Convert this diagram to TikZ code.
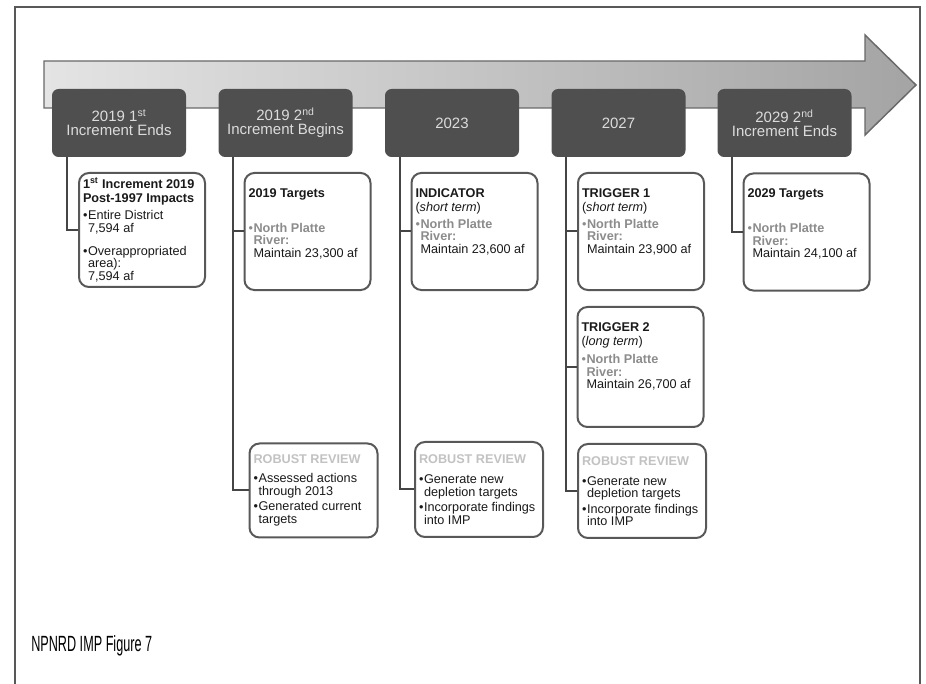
\documentclass[tikz,border=0pt]{standalone}
\usepackage{fontspec}
\setmainfont{Liberation Sans}

\definecolor{darkbox}{HTML}{4F4F4F}
\definecolor{yeartext}{HTML}{DCDCDC}
\definecolor{boxline}{HTML}{585858}
\definecolor{linkline}{HTML}{454545}
\definecolor{npgray}{HTML}{8C8C8C}
\definecolor{rrgray}{HTML}{C2C2C2}
\definecolor{textdark}{HTML}{1A1A1A}
\definecolor{arrowlight}{HTML}{E4E4E4}
\definecolor{arrowdark}{HTML}{A4A4A4}

% bullet item with hanging indent
\newcommand{\bpt}[1]{\par\hangindent=3.8pt\hangafter=1\noindent\makebox[3.8pt][l]{\textbullet}#1\par}
% North Platte target item
\newcommand{\nptarget}[1]{{\color{npgray}\bpt{\textbf{North Platte}\\\textbf{River:}\\\textcolor{textdark}{Maintain #1}}}}

\tikzset{
  frameline/.style={draw=boxline, line width=1.5pt},
  timearrow/.style={draw=boxline!90, line width=1.1pt, left color=arrowlight, right color=arrowdark},
  yearbox/.style={fill=darkbox, rounded corners=5pt, minimum width=100.5pt, minimum height=51pt,
    inner sep=0pt, align=center, text=yeartext, font=\fontsize{11.25pt}{10.5pt}\selectfont},
  infobox/.style={draw=boxline, line width=1.5pt, fill=white, rounded corners=7.5pt,
    inner xsep=3pt, inner ysep=3.4pt, text=textdark, font=\fontsize{9.5pt}{9.4pt}\selectfont},
  link/.style={draw=linkline, line width=1.5pt}
}

\begin{document}
\begin{tikzpicture}[x=0.75pt,y=-0.75pt]
  % page
  \clip (0,0) rectangle (926,684);
  % outer frame
  \draw[frameline] (15,7) rectangle (920,700);
  % timeline arrow
  \draw[timearrow] (44,61) -- (865,61) -- (865,35) -- (916,85) -- (865,135) -- (865,108) -- (44,108) -- cycle;

  % year boxes
  \node[yearbox] (y1) at (119,123) {2019 1\textsuperscript{st}\\Increment Ends};
  \node[yearbox] (y2) at (285.5,123) {2019 2\textsuperscript{nd}\\Increment Begins};
  \node[yearbox] (y3) at (452,123) {2023};
  \node[yearbox] (y4) at (618.5,123) {2027};
  \node[yearbox] (y5) at (784.5,123) {2029 2\textsuperscript{nd}\\Increment Ends};

  % targets row
  \node[infobox, minimum width=94.5pt, minimum height=85.5pt] (c1) at (142,230) {\parbox{88.5pt}{%
    \textbf{1\textsuperscript{st} Increment 2019}\\[1.1pt]\textbf{Post-1997 Impacts}\par\vspace{3pt}
    \bpt{Entire District\\7,594 af}\vspace{8pt}
    \bpt{Overappropriated\\area):\\7,594 af}}};
  \node[infobox] (c2) at (307.5,231.5) {\parbox[c][81pt][t]{88.5pt}{\vspace*{8pt}%
    \textbf{2019 Targets}\par\vspace{17pt}
    \nptarget{23,300 af}}};
  \node[infobox] (c3) at (474.5,231.5) {\parbox[c][81pt][t]{88.5pt}{\vspace*{8pt}%
    \textbf{INDICATOR}\\[1.1pt](\textit{short term})\par\vspace{3.6pt}
    \nptarget{23,600 af}}};
  \node[infobox] (c4) at (641,231.5) {\parbox[c][81pt][t]{88.5pt}{\vspace*{8pt}%
    \textbf{TRIGGER 1}\\[1.1pt](\textit{short term})\par\vspace{3.6pt}
    \nptarget{23,900 af}}};
  \node[infobox] (c5) at (806.5,232) {\parbox[c][81pt][t]{88.5pt}{\vspace*{8pt}%
    \textbf{2029 Targets}\par\vspace{17pt}
    \nptarget{24,100 af}}};
  \node[infobox] (c4b) at (640.5,367) {\parbox[c][83.2pt][t]{88.5pt}{\vspace*{8.5pt}%
    \textbf{TRIGGER 2}\\[1.1pt](\textit{long term})\par\vspace{4.1pt}
    \nptarget{26,700 af}}};

  % robust reviews
  \node[infobox, minimum width=96pt, minimum height=70.5pt] (r2) at (313.5,490.5) {\parbox{90pt}{%
    \textcolor{rrgray}{\textbf{ROBUST REVIEW}}\par\vspace{4.9pt}
    \bpt{Assessed actions\\through 2013}\vspace{2.3pt}
    \bpt{Generated current\\targets}}};
  \node[infobox, minimum width=96pt, minimum height=71.25pt] (r3) at (479,489.5) {\parbox{90pt}{%
    \textcolor{rrgray}{\textbf{ROBUST REVIEW}}\par\vspace{5.6pt}
    \bpt{Generate new\\depletion targets}\vspace{2.3pt}
    \bpt{Incorporate findings\\into IMP}}};
  \node[infobox, minimum width=96pt, minimum height=70.5pt] (r4) at (642,491) {\parbox{90pt}{%
    \textcolor{rrgray}{\textbf{ROBUST REVIEW}}\par\vspace{5.6pt}
    \bpt{Generate new\\depletion targets}\vspace{2.3pt}
    \bpt{Incorporate findings\\into IMP}}};

  % connectors
  \draw[link] ([xshift=11.25pt]y1.south west) |- (c1.west);
  \draw[link] ([xshift=11.25pt]y2.south west) |- (c2.west);
  \draw[link] ([xshift=11.25pt]y2.south west) |- (r2.west);
  \draw[link] ([xshift=11.25pt]y3.south west) |- (c3.west);
  \draw[link] ([xshift=11.25pt]y3.south west) |- (r3.west);
  \draw[link] ([xshift=11.25pt]y4.south west) |- (c4.west);
  \draw[link] ([xshift=11.25pt]y4.south west) |- (c4b.west);
  \draw[link] ([xshift=11.25pt]y4.south west) |- (r4.west);
  \draw[link] ([xshift=11.25pt]y5.south west) |- (c5.west);

  % caption
  \node[anchor=base west, inner sep=0pt, text=black] (title) at (31,652)
    {\scalebox{0.575}[1]{\fontsize{16.5pt}{16.5pt}\selectfont NPNRD IMP Figure 7}};
\end{tikzpicture}
\end{document}
